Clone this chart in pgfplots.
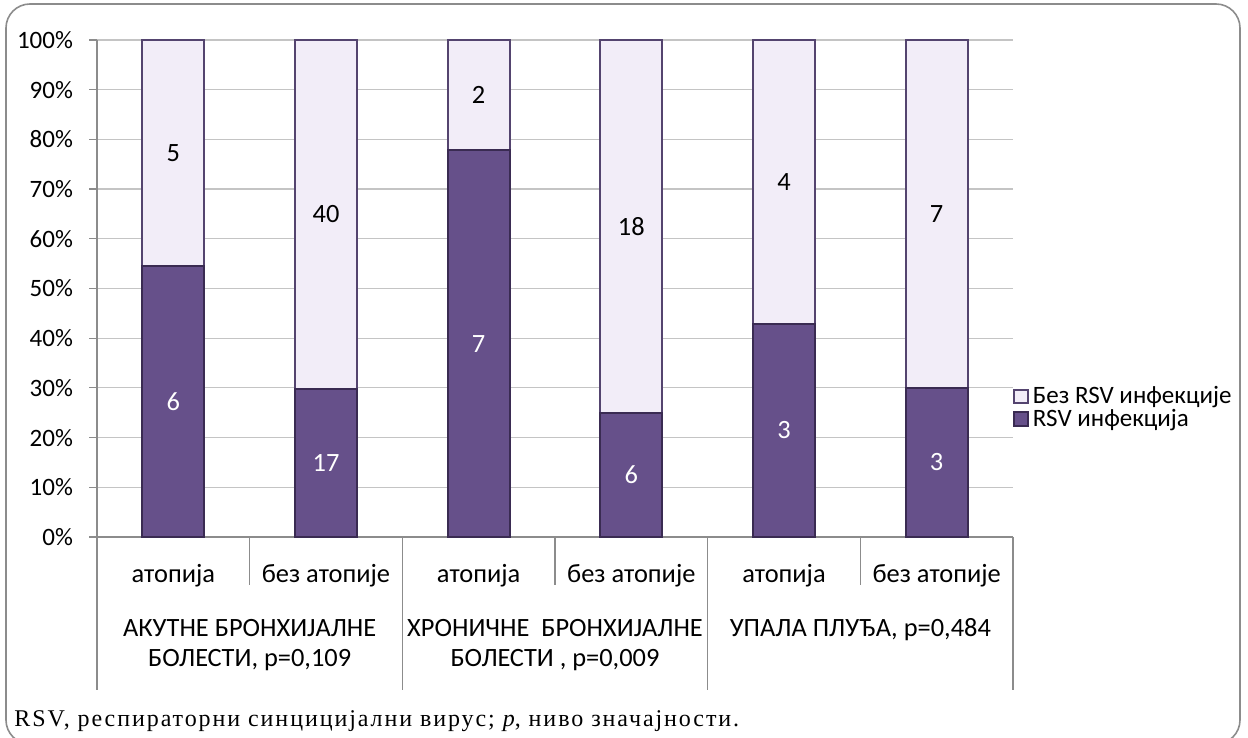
\documentclass[border=0pt]{standalone}
\usepackage{pgfplots}
\pgfplotsset{compat=1.18}
\usepackage{pgfplotstable}
\usepackage{fontspec}
\setmainfont{Carlito}
\newfontfamily\seriffont[LetterSpace=8]{Liberation Serif}
\definecolor{rsvdark}{HTML}{66508A}
\definecolor{rsvdarkedge}{HTML}{3A2B52}
\definecolor{rsvlight}{HTML}{F2EDF8}
\definecolor{rsvlightedge}{HTML}{54446F}
\definecolor{gridgray}{HTML}{C4C4C4}
\definecolor{axisgray}{HTML}{8C8C8C}
\newcommand\lblfont{\fontsize{12.5}{14}\selectfont}
\newcommand\catfont{\fontsize{13.2}{15}\selectfont}

\pgfplotstableread{
x pct n
0 54.55 6
1 29.82 17
2 77.78 7
3 25.00 6
4 42.86 3
5 30.00 3
}\rsv
\pgfplotstableread{
x pct n
0 45.45 5
1 70.18 40
2 22.22 2
3 75.00 18
4 57.14 4
5 70.00 7
}\norsv
\pgfplotstableread{
x mid n
0 27.27 6
1 14.91 17
2 38.89 7
3 12.50 6
4 21.43 3
5 15.00 3
}\rsvmid
\pgfplotstableread{
x mid n
0 77.27 5
1 64.91 40
2 88.89 2
3 62.50 18
4 71.43 4
5 65.00 7
}\norsvmid

\begin{document}
\begin{tikzpicture}
\useasboundingbox (0,0) rectangle (624pt,369pt);
\draw[axisgray, line width=0.8pt, rounded corners=12pt] (3pt,-3pt) rectangle (620pt,367pt);
\begin{axis}[
  at={(48.5pt,100.5pt)}, anchor=south west,
  scale only axis, width=458pt, height=248.5pt,
  ybar stacked, bar width=31pt,
  xmin=-0.5, xmax=5.5, ymin=0, ymax=100,
  axis x line=bottom, axis y line=left,
  axis line style={-, draw=axisgray, line width=0.6pt},
  ytick={0,10,...,100},
  yticklabel={\pgfmathprintnumber{\tick}\%},
  yticklabel style={xshift=-4.5pt, font=\lblfont},
  /pgf/number format/assume math mode=true,
  ymajorgrids, grid style={gridgray, line width=0.6pt},
  tick align=outside,
  y tick style={axisgray, line width=0.6pt}, major tick length=4pt,
  x tick style={draw=none},
  xtick={0,...,5},
  xticklabels={атопија,без атопије,атопија,без атопије,атопија,без атопије},
  xticklabel style={anchor=center, yshift=-15.5pt, font=\catfont},
  tick label style={text=black},
  clip=false,
  reverse legend,
  legend style={at={(1.0,0.26)}, anchor=west, draw=none, fill=none,
    font=\fontsize{12.5}{13}\selectfont, inner xsep=0pt, row sep=0pt,
    nodes={inner ysep=0.6pt}, legend cell align=left},
  legend image code/.code={\draw[#1] (0pt,-3.4pt) rectangle (6.8pt,3.4pt);},
]
\addplot[fill=rsvdark, draw=rsvdarkedge, line width=1pt] table[x=x,y=pct] {\rsv};
\addlegendentry{RSV инфекција}
\addplot[fill=rsvlight, draw=rsvlightedge, line width=1pt] table[x=x,y=pct] {\norsv};
\addlegendentry{Без RSV инфекције}
% category separators
\pgfplotsinvokeforeach{0.5,2.5,4.5}{
  \draw[axisgray, line width=0.6pt] (axis cs:#1,0) -- ([yshift=-24pt]axis cs:#1,0);
}
\pgfplotsinvokeforeach{-0.5,1.5,3.5,5.5}{
  \draw[axisgray, line width=0.6pt] (axis cs:#1,0) -- ([yshift=-76.5pt]axis cs:#1,0);
}
\node[align=center, font=\catfont] at ([yshift=-54pt]axis cs:0.5,0) {АКУТНЕ БРОНХИЈАЛНЕ\\БОЛЕСТИ, p=0,109};
\node[align=center, font=\catfont] at ([yshift=-54pt]axis cs:2.5,0) {ХРОНИЧНЕ\ \ БРОНХИЈАЛНЕ\\БОЛЕСТИ , p=0,009};
\node[align=center, font=\catfont] at ([yshift=-46.5pt]axis cs:4.5,0) {УПАЛА ПЛУЂА, p=0,484};
\end{axis}
\begin{axis}[
  at={(48.5pt,100.5pt)}, anchor=south west,
  scale only axis, width=458pt, height=248.5pt,
  xmin=-0.5, xmax=5.5, ymin=0, ymax=100,
  axis lines=none, clip=false,
  nodes near coords, point meta=explicit symbolic,
  every node near coord/.append style={anchor=center, font=\catfont},
]
\addplot[only marks, mark=none, nodes near coords style={text=white}] table[x=x,y=mid,meta=n] {\rsvmid};
\addplot[only marks, mark=none, nodes near coords style={text=black}] table[x=x,y=mid,meta=n] {\norsvmid};
\end{axis}
\node[anchor=base west, font=\seriffont\fontsize{12}{13}\selectfont, inner sep=0pt] at (7pt,5.5pt) {RSV, респираторни синцицијални вирус; \textit{p}, ниво значајности.};
\end{tikzpicture}
\end{document}
